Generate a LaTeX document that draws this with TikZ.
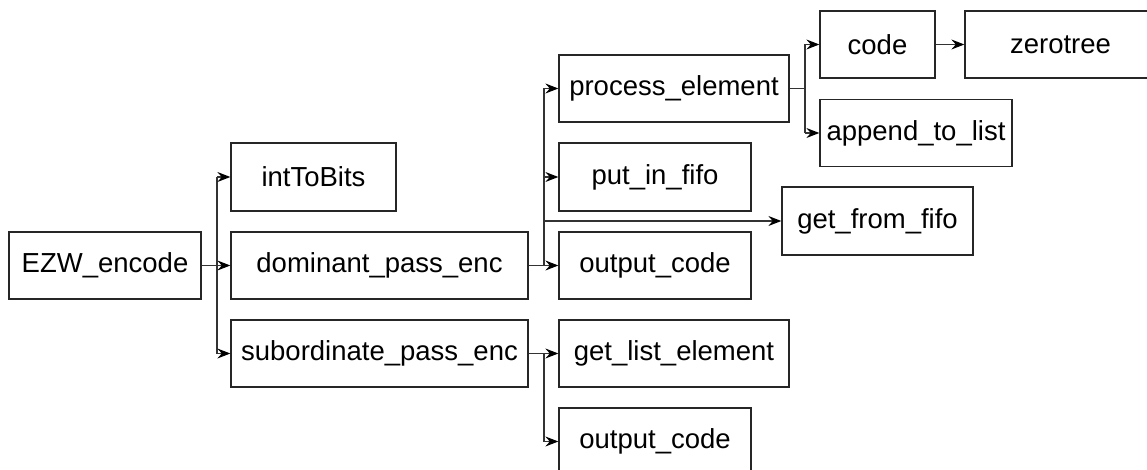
\documentclass[tikz,border=0pt]{standalone}
\usepackage{fontspec}
\setmainfont{Liberation Sans}
\usetikzlibrary{arrows.meta}
\begin{document}
\begin{tikzpicture}[x=1pt,y=-1pt,
  box/.style={draw=black!85, line width=1.3pt, fill=white, inner sep=0pt, minimum height=67pt, font=\fontsize{27.5}{33}\selectfont},
  conn/.style={draw=black!80, line width=1.3pt, -{Stealth[length=13pt,width=10pt,inset=4.5pt,black]}},
  plain/.style={draw=black!80, line width=1.3pt}]
\useasboundingbox (0,0) rectangle (1147,470);
\clip (0,0) rectangle (1147,470);
\node[box, minimum width=192pt] (ezw) at (105,265.5) {EZW\_encode};
\node[box, minimum width=165pt, minimum height=68pt] (int) at (313.5,177) {intToBits};
\node[box, minimum width=297pt] (dom) at (379.5,265.5) {dominant\_pass\_enc};
\node[box, minimum width=297pt] (sub) at (379.5,353.5) {subordinate\_pass\_enc};
\node[box, minimum width=230pt] (proc) at (674,88.5) {process\_element};
\node[box, minimum width=192pt, minimum height=68pt] (put) at (655,177) {put\_in\_fifo};
\node[box, minimum width=192pt] (out1) at (655,265.5) {output\_code};
\node[box, minimum width=191pt, minimum height=68pt] (gff) at (877.5,221) {get\_from\_fifo};
\node[box, minimum width=230pt] (gle) at (674,353.5) {get\_list\_element};
\node[box, minimum width=192pt] (out2) at (655,441.5) {output\_code};
\node[box, minimum width=115pt] (code) at (877.5,44.5) {code};
\node[box, minimum width=191pt] (zero) at (1060.5,44.5) {zerotree};
\node[box, minimum width=192pt] (app) at (916,133) {append\_to\_list};
\coordinate (j1) at (217,0);
\coordinate (j2) at (544,0);
\coordinate (j3) at (544,0);
\coordinate (j4) at (805,0);
% EZW_encode branch
\draw[conn] (ezw.east) -- (dom.west);
\draw[plain] (j1|-int.west) -- (j1|-sub.west);
\draw[conn] (j1|-int.west) -- (int.west);
\draw[conn] (j1|-sub.west) -- (sub.west);
% dominant branch
\draw[conn] (dom.east) -- (out1.west);
\draw[plain] (j2|-proc.west) -- (j2|-out1.west);
\draw[conn] (j2|-proc.west) -- (proc.west);
\draw[conn] (j2|-put.west) -- (put.west);
\draw[conn] (j2|-gff.west) -- (gff.west);
% subordinate branch
\draw[conn] (sub.east) -- (gle.west);
\draw[plain] (j3|-gle.west) -- (j3|-out2.west);
\draw[conn] (j3|-out2.west) -- (out2.west);
% process_element branch
\draw[plain] (proc.east) -- (j4|-proc.east);
\draw[plain] (j4|-code.west) -- (j4|-app.west);
\draw[conn] (j4|-code.west) -- (code.west);
\draw[conn] (j4|-app.west) -- (app.west);
\draw[conn] (code.east) -- (zero.west);
\end{tikzpicture}
\end{document}
